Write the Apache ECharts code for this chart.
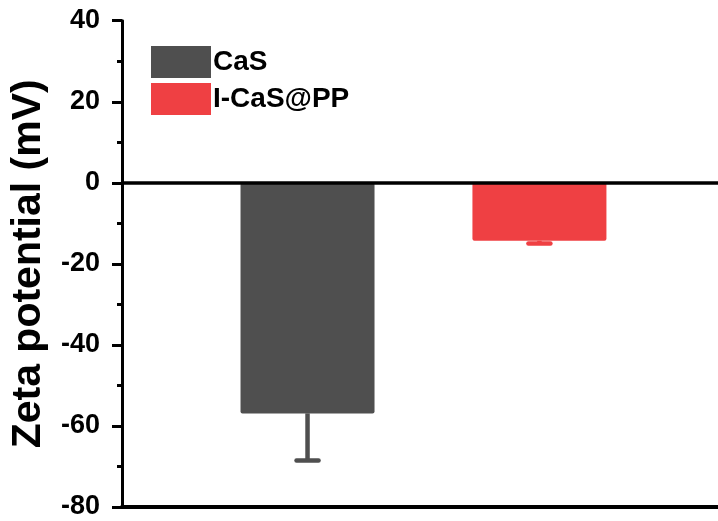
<!DOCTYPE html>
<html>
<head>
<meta charset="utf-8">
<script src="https://cdn.jsdelivr.net/npm/echarts@6/dist/echarts.min.js"></script>
<style>html,body{margin:0;padding:0;background:#fff}#c{width:718px;height:521px}</style>
</head>
<body>
<div id="c"></div>
<script>
const categories = ['CaS', 'I-CaS@PP'];
const positions = [1, 2];
const means = [-56.9, -14.3];
const errors = [11.6, 0.7];
const colors = ['#4f4f4f', '#ef4043'];
const yTitle = 'Zeta potential (mV)';

const FONT = '"Liberation Sans", Arial, sans-serif';
const chart = echarts.init(document.getElementById('c'));

const barSeries = categories.map((name, i) => ({
  name: name,
  type: 'bar',
  data: [[positions[i], means[i]]],
  barWidth: 134,
  barGap: '-100%',
  itemStyle: { color: colors[i], borderRadius: 2 },
  z: 2,
  markLine: i === 0 ? {
    silent: true,
    symbol: ['none', 'none'],
    label: { show: false },
    lineStyle: { color: '#000', width: 3.5, type: 'solid' },
    data: [{ yAxis: 0 }],
    z: 5
  } : undefined
}));

const errSeries = {
  type: 'custom',
  name: 'err',
  z: 3,
  data: categories.map((c, i) => [positions[i], means[i], errors[i], i]),
  renderItem: function (params, api) {
    const x = api.value(0), y = api.value(1), e = api.value(2), idx = api.value(3);
    const p0 = api.coord([x, y]);
    const p1 = api.coord([x, y - e]);
    const col = colors[idx];
    const w = 4.5;
    return {
      type: 'group',
      children: [
        { type: 'line', shape: { x1: p0[0], y1: p0[1], x2: p1[0], y2: p1[1] }, style: { stroke: col, lineWidth: w } },
        { type: 'line', shape: { x1: p1[0] - 11, y1: p1[1], x2: p1[0] + 11, y2: p1[1] }, style: { stroke: col, lineWidth: w, lineCap: 'round' } }
      ]
    };
  }
};

chart.setOption({
  animation: false,
  textStyle: { fontFamily: FONT },
  grid: { left: 122, right: 0, top: 20.7, bottom: 14, containLabel: false, outerBoundsMode: 'none' },
  legend: {
    data: categories.map(n => ({ name: n, icon: 'rect' })),
    orient: 'vertical',
    left: 146, top: 41,
    itemWidth: 60, itemHeight: 32, itemGap: 5,
    textStyle: { fontSize: 28, fontWeight: 'bold', color: '#000', fontFamily: FONT, padding: [0, 0, 0, -3] }
  },
  xAxis: {
    type: 'value', min: 0.2, max: 2.77,
    axisLine: { show: true, onZero: false, lineStyle: { color: '#000', width: 4 } },
    axisTick: { show: false }, axisLabel: { show: false }, splitLine: { show: false }
  },
  yAxis: {
    type: 'value', min: -80, max: 40, interval: 20, position: 'left',
    name: yTitle, nameLocation: 'middle', nameGap: 73,
    nameTextStyle: { fontSize: 41, fontWeight: 'bold', color: '#000', fontFamily: FONT },
    axisLine: { show: true, onZero: false, lineStyle: { color: '#000', width: 3 } },
    axisTick: { show: true, inside: false, length: 10, lineStyle: { color: '#000', width: 3 } },
    minorTick: { show: true, splitNumber: 2, length: 5, lineStyle: { color: '#000', width: 3 } },
    axisLabel: { fontSize: 27, fontWeight: 'bold', color: '#000', margin: 22, fontFamily: FONT },
    splitLine: { show: false }
  },
  series: barSeries.concat([errSeries])
});
</script>
</body>
</html>
